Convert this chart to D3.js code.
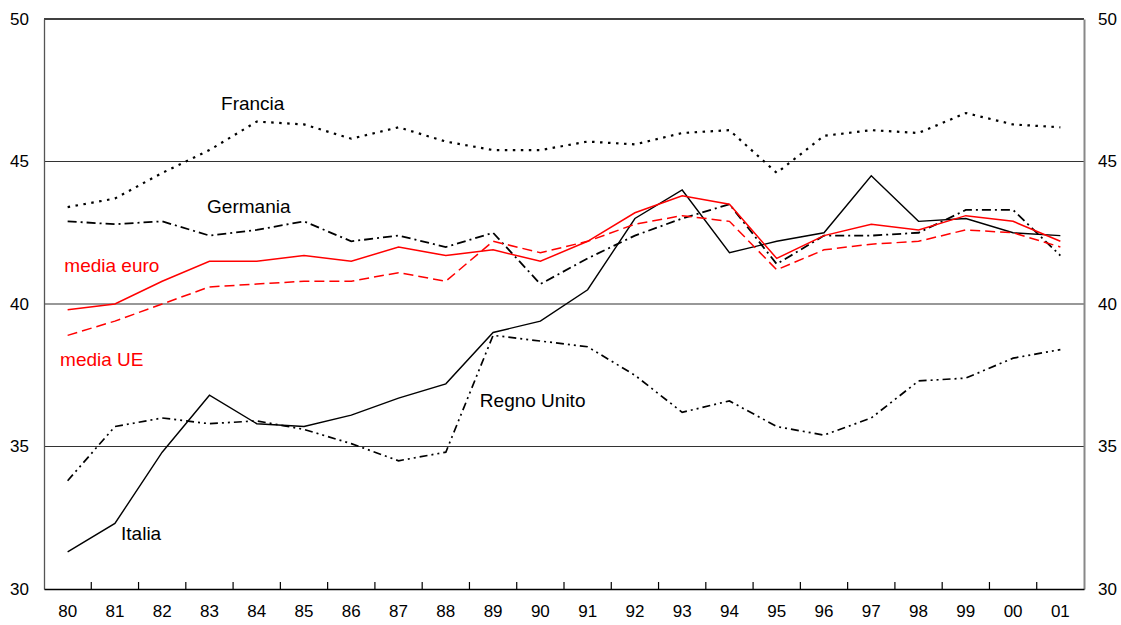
<!DOCTYPE html>
<html>
<head>
<meta charset="utf-8">
<script src="https://cdn.jsdelivr.net/npm/d3@7"></script>
<style>
  body { margin: 0; background: #fff; }
  svg { font-family: "Liberation Sans", Arial, sans-serif; }
</style>
</head>
<body>
<svg id="chart" width="1121" height="625"></svg>
<script>
const years = ["80","81","82","83","84","85","86","87","88","89","90","91","92","93","94","95","96","97","98","99","00","01"];
const yTicks = [30, 35, 40, 45, 50];

const francia    = [43.4, 43.7, 44.6, 45.4, 46.4, 46.3, 45.8, 46.2, 45.7, 45.4, 45.4, 45.7, 45.6, 46.0, 46.1, 44.6, 45.9, 46.1, 46.0, 46.7, 46.3, 46.2];
const germania   = [42.9, 42.8, 42.9, 42.4, 42.6, 42.9, 42.2, 42.4, 42.0, 42.5, 40.7, 41.6, 42.4, 43.0, 43.5, 41.4, 42.4, 42.4, 42.5, 43.3, 43.3, 41.7];
const italia     = [31.3, 32.3, 34.8, 36.8, 35.8, 35.7, 36.1, 36.7, 37.2, 39.0, 39.4, 40.5, 43.0, 44.0, 41.8, 42.2, 42.5, 44.5, 42.9, 43.0, 42.5, 42.4];
const regnoUnito = [33.8, 35.7, 36.0, 35.8, 35.9, 35.6, 35.1, 34.5, 34.8, 38.9, 38.7, 38.5, 37.5, 36.2, 36.6, 35.7, 35.4, 36.0, 37.3, 37.4, 38.1, 38.4];
const mediaEuro  = [39.8, 40.0, 40.8, 41.5, 41.5, 41.7, 41.5, 42.0, 41.7, 41.9, 41.5, 42.2, 43.2, 43.8, 43.5, 41.6, 42.4, 42.8, 42.6, 43.1, 42.9, 42.2];
const mediaUE    = [38.9, 39.4, 40.0, 40.6, 40.7, 40.8, 40.8, 41.1, 40.8, 42.2, 41.8, 42.2, 42.8, 43.1, 42.9, 41.2, 41.9, 42.1, 42.2, 42.6, 42.5, 42.0];

// label anchors: position in years index and value
const labelNames  = ["Francia", "Germania", "media euro", "media UE", "Regno Unito", "Italia"];
const labelIdx    = [3.245, 2.95, -0.07, -0.16, 8.72, 1.13];
const labelValues = [46.79, 43.2, 41.13, 37.84, 36.38, 31.72];
const labelColors = ["#000", "#000", "#ff0000", "#ff0000", "#000", "#000"];

var margin = {top: 19, right: 37, bottom: 36, left: 44},
    width = 1121 - margin.left - margin.right,
    height = 625 - margin.top - margin.bottom;

var svg = d3.select("#chart");
var g = svg.append("g")
    .attr("transform", "translate(" + margin.left + "," + margin.top + ")");

var xBand = d3.scaleBand().domain(years).range([0, width]).padding(0);
var xIdx = d3.scaleLinear().domain([0, years.length - 1])
    .range([xBand.bandwidth() / 2, width - xBand.bandwidth() / 2]);
var y = d3.scaleLinear().domain([30, 50]).range([height, 0]);

// horizontal grid lines
g.selectAll(".grid")
    .data(yTicks.filter(d => d > 30 && d < 50))
    .enter().append("line")
    .attr("x1", 0).attr("x2", width)
    .attr("y1", d => y(d)).attr("y2", d => y(d))
    .attr("stroke", "#333")
    .attr("stroke-width", 1.2);

// top line
g.append("line")
    .attr("x1", 0).attr("x2", width)
    .attr("y1", y(50)).attr("y2", y(50))
    .attr("stroke", "#000").attr("stroke-width", 1.3);

// left axis
var leftAxis = g.append("g")
    .call(d3.axisLeft(y).tickValues(yTicks).tickSize(0).tickPadding(15));
leftAxis.select(".domain").attr("stroke", "#555").attr("stroke-width", 1.3);
leftAxis.selectAll("text").attr("font-size", 17).attr("fill", "#000")
    .attr("font-family", "Liberation Sans, Arial, sans-serif");

// right axis
var rightAxis = g.append("g")
    .attr("transform", "translate(" + width + ",0)")
    .call(d3.axisRight(y).tickValues(yTicks).tickSize(0).tickPadding(14));
rightAxis.select(".domain").attr("stroke", "#888").attr("stroke-width", 2);
rightAxis.selectAll("text").attr("font-size", 17).attr("fill", "#000")
    .attr("font-family", "Liberation Sans, Arial, sans-serif");

// bottom axis, ticks between categories
var bottom = g.append("g").attr("transform", "translate(0," + height + ")");
bottom.call(d3.axisBottom(xBand).tickSize(0).tickPadding(16));
bottom.select(".domain").attr("stroke", "#000").attr("stroke-width", 1.3);
bottom.selectAll("text").attr("font-size", 17).attr("fill", "#000")
    .attr("font-family", "Liberation Sans, Arial, sans-serif");
bottom.selectAll(".sep")
    .data(years.slice(1))
    .enter().append("line")
    .attr("x1", d => xBand(d)).attr("x2", d => xBand(d))
    .attr("y1", 0).attr("y2", -7)
    .attr("stroke", "#000").attr("stroke-width", 1.2);

var line = d3.line()
    .x((d, i) => xIdx(i))
    .y(d => y(d));

function drawSeries(data, color, width, dash) {
    g.append("path")
        .datum(data)
        .attr("fill", "none")
        .attr("stroke", color)
        .attr("stroke-width", width)
        .attr("stroke-dasharray", dash)
        .attr("d", line);
}

drawSeries(francia, "#000", 2.2, "2.5,5.5");
drawSeries(regnoUnito, "#000", 1.7, "8,4,2,4,2,4");
drawSeries(germania, "#000", 1.8, "9,4,2,4");
drawSeries(italia, "#000", 1.4, null);
drawSeries(mediaUE, "#ff0000", 1.5, "10,5");
drawSeries(mediaEuro, "#ff0000", 1.5, null);

g.selectAll(".lbl")
    .data(labelNames)
    .enter().append("text")
    .attr("x", (d, i) => xIdx(labelIdx[i]))
    .attr("y", (d, i) => y(labelValues[i]))
    .attr("fill", (d, i) => labelColors[i])
    .attr("font-size", 19)
    .text(d => d);
</script>
</body>
</html>
